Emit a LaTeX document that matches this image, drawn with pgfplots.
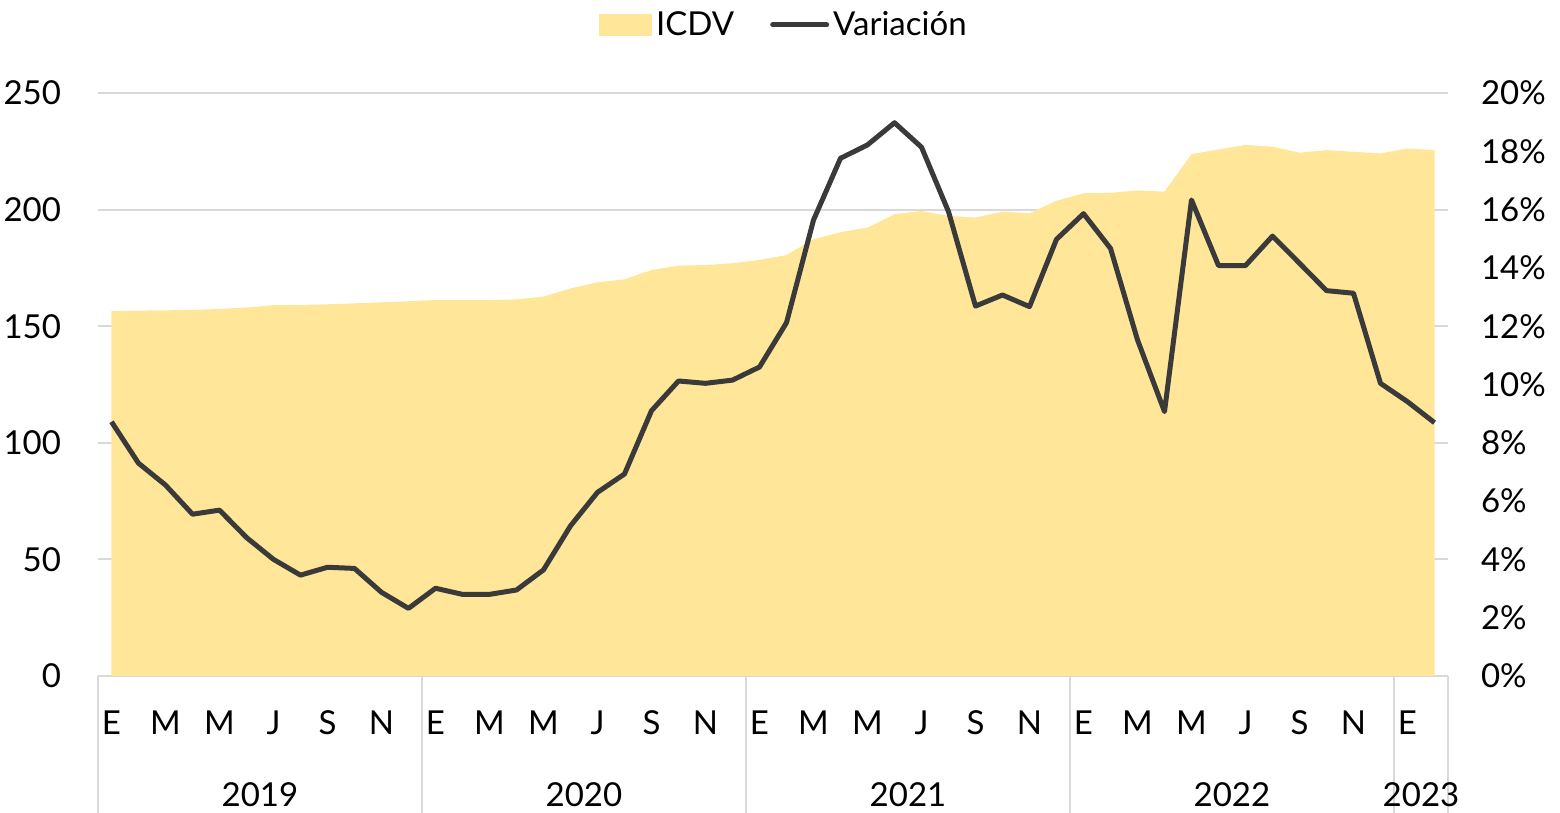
\documentclass[border=0pt]{standalone}
\usepackage{fontspec}
\setmainfont{Lato}
\usepackage{pgfplots}
\pgfplotsset{compat=1.18}
\definecolor{icdv}{HTML}{FFE699}
\definecolor{varc}{HTML}{3A3A3A}
\definecolor{gridc}{HTML}{D9D9D9}
\begin{document}
\begin{tikzpicture}
\useasboundingbox (0,0) rectangle (780pt,406.5pt);
\pgfplotsset{
  common/.style={
    at={(49pt,68.5pt)}, anchor=south west,
    width=675pt, height=291.5pt, scale only axis,
    xmin=-0.5, xmax=49.5,
    font=\fontsize{16.5}{19}\selectfont,
    tick label style={font=\fontsize{16.5}{19}\selectfont},
    /pgf/number format/assume math mode=true,
    major tick length=0pt,
    clip=false,
  }
}
\begin{axis}[common,
  ymin=0, ymax=250, ytick={0,50,100,150,200,250},
  ymajorgrids, grid style={gridc, line width=1pt},
  axis y line*=left, y axis line style={draw=none},
  axis x line*=bottom, x axis line style={gridc, line width=1pt},
  xtick={0,2,...,48},
  xticklabels={E,M,M,J,S,N,E,M,M,J,S,N,E,M,M,J,S,N,E,M,M,J,S,N,E},
  xticklabel style={yshift=-14pt},
  yticklabel style={xshift=-15pt},
]
\addplot[fill=icdv, draw=none] coordinates {
(0,156.5) (1,156.7) (2,156.8) (3,157.0) (4,157.4) (5,158.0) (6,159.0) (7,159.1) (8,159.4) (9,159.8) (10,160.2) (11,160.7)
(12,161.2) (13,161.2) (14,161.2) (15,161.5) (16,162.7) (17,166.2) (18,168.8) (19,170.1) (20,174.1) (21,176.0) (22,176.2) (23,177.0)
(24,178.4) (25,180.5) (26,187.3) (27,190.3) (28,192.3) (29,198.0) (30,199.4) (31,197.3) (32,196.6) (33,199.1) (34,198.4) (35,203.8)
(36,207.0) (37,207.2) (38,208.2) (39,207.7) (40,223.8) (41,225.8) (42,227.7) (43,227.0) (44,224.4) (45,225.5) (46,224.8) (47,224.1)
(48,226.2) (49,225.5)
} \closedcycle;
% year separators and labels
\pgfplotsinvokeforeach{-0.5,11.5,23.5,35.5,47.5,49.5}{
  \draw[gridc, line width=1pt] (axis cs:#1,0) -- ++(0pt,-68.5pt);
}
\node[anchor=center] at (axis cs:5.5,0) [yshift=-59.5pt] {2019};
\node[anchor=center] at (axis cs:17.5,0) [yshift=-59.5pt] {2020};
\node[anchor=center] at (axis cs:29.5,0) [yshift=-59.5pt] {2021};
\node[anchor=center] at (axis cs:41.5,0) [yshift=-59.5pt] {2022};
\node[anchor=center] at (axis cs:48.5,0) [yshift=-59.5pt] {2023};
\end{axis}
\begin{axis}[common,
  ymin=0, ymax=20, ytick={0,2,...,20},
  yticklabel={\pgfmathprintnumber{\tick}\%},
  axis y line*=right, y axis line style={draw=none},
  axis x line=none,
  yticklabel style={anchor=west, xshift=13pt},
  legend style={at={(0.5,1.117)}, anchor=center, xshift=6pt, draw=none, fill=none,
    legend columns=2, font=\fontsize{16.5}{19}\selectfont,
    /tikz/every even column/.append style={column sep=16pt},
    inner sep=0pt, cells={anchor=west}},
]
\addlegendimage{legend image code/.code={\fill[icdv] (0pt,-5.25pt) rectangle (26pt,5.25pt);}}
\addlegendentry{ICDV}
\addplot[varc, line width=2.5pt, line join=round,
  legend image code/.code={\draw[varc, line width=2.5pt, line cap=round] (0pt,0pt) -- (27pt,0pt);}] coordinates {
(0,8.72) (1,7.30) (2,6.55) (3,5.55) (4,5.69) (5,4.75) (6,4.00) (7,3.46) (8,3.73) (9,3.69) (10,2.87) (11,2.32)
(12,3.01) (13,2.80) (14,2.80) (15,2.95) (16,3.64) (17,5.15) (18,6.30) (19,6.93) (20,9.10) (21,10.12) (22,10.04) (23,10.15)
(24,10.60) (25,12.12) (26,15.64) (27,17.76) (28,18.22) (29,18.98) (30,18.14) (31,15.93) (32,12.69) (33,13.07) (34,12.67) (35,14.98)
(36,15.86) (37,14.67) (38,11.53) (39,9.07) (40,16.33) (41,14.08) (42,14.08) (43,15.09) (44,14.16) (45,13.22) (46,13.13) (47,10.04)
(48,9.41) (49,8.69)
};
\addlegendentry{Variación}
\end{axis}
\end{tikzpicture}
\end{document}
